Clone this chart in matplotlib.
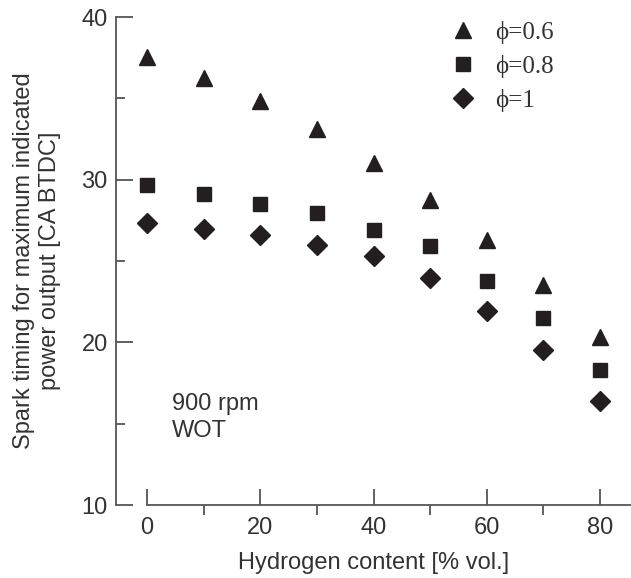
import matplotlib
matplotlib.use('Agg')
import matplotlib.pyplot as plt
from matplotlib.ticker import MultipleLocator

# hydrogen content [% vol.]
h2 = [0, 10, 20, 30, 40, 50, 60, 70, 80]
# spark timing for max indicated power [CA BTDC]
phi_06 = [37.55, 36.25, 34.85, 33.1, 31.0, 28.75, 26.3, 23.5, 20.3]
phi_08 = [29.7, 29.1, 28.5, 27.95, 26.9, 25.95, 23.8, 21.5, 18.3]
phi_10 = [27.35, 26.95, 26.6, 26.0, 25.3, 23.95, 21.9, 19.55, 16.4]
labels = ['ϕ=0.6', 'ϕ=0.8', 'ϕ=1']

plt.rcParams['font.family'] = ['Liberation Sans', 'DejaVu Sans']
ink = '#231f20'
axc = '#555555'
txt = '#333333'
fs = 17

fig = plt.figure(figsize=(6.31, 5.78), dpi=100)
ax = fig.add_axes([116 / 631, 1 - 505 / 578, 1 - 116 / 631, (505 - 17) / 578])

ax.plot(h2, phi_06, '^', ms=12, color=ink, label=labels[0], clip_on=False)
ax.plot(h2, phi_08, 's', ms=10.5, color=ink, label=labels[1], clip_on=False)
ax.plot(h2, phi_10, 'D', ms=10, color=ink, label=labels[2], clip_on=False)

ax.set_xlim(-5.5, 85.5)
ax.set_ylim(10, 40)

for s in ['top', 'right']:
    ax.spines[s].set_visible(False)
ax.spines['bottom'].set_bounds(0, 85.5)
ax.spines['left'].set_bounds(10, 40)
for s in ['bottom', 'left']:
    ax.spines[s].set_color(axc)
    ax.spines[s].set_linewidth(1.3)

ax.xaxis.set_major_locator(MultipleLocator(20))
ax.xaxis.set_minor_locator(MultipleLocator(10))
ax.yaxis.set_major_locator(MultipleLocator(10))
ax.yaxis.set_minor_locator(MultipleLocator(5))
ax.tick_params(axis='x', which='major', direction='in', length=11.5, width=1.3,
               color=axc, labelsize=fs, labelcolor=txt, pad=9)
ax.tick_params(axis='x', which='minor', direction='out', length=7, width=1.3, color=axc)
ax.tick_params(axis='y', which='major', direction='in', length=12.5, width=1.3,
               color=axc, labelsize=fs, labelcolor=txt, pad=6)
ax.tick_params(axis='y', which='minor', direction='in', length=6.5, width=1.3, color=axc)

ax.set_xlabel('Hydrogen content [% vol.]', fontsize=fs, color=txt, labelpad=9)
ax.set_ylabel('Spark timing for maximum indicated\npower output [CA BTDC]',
              fontsize=fs, color=txt, labelpad=15)

ax.text(4.4, 14.2, '900 rpm\nWOT', fontsize=fs, color=txt, va='baseline', ha='left',
        linespacing=1.27)

leg = fig.legend(loc='upper left', bbox_to_anchor=(450.5 / 631, 1 - 21 / 578),
                 frameon=False, prop={'family': ['Liberation Serif', 'DejaVu Serif'], 'size': 18},
                 labelspacing=0.43, handlelength=1.0, handletextpad=0.8,
                 borderpad=0, borderaxespad=0)
for t in leg.get_texts():
    t.set_color(txt)

fig.savefig('out.png', dpi=100)
